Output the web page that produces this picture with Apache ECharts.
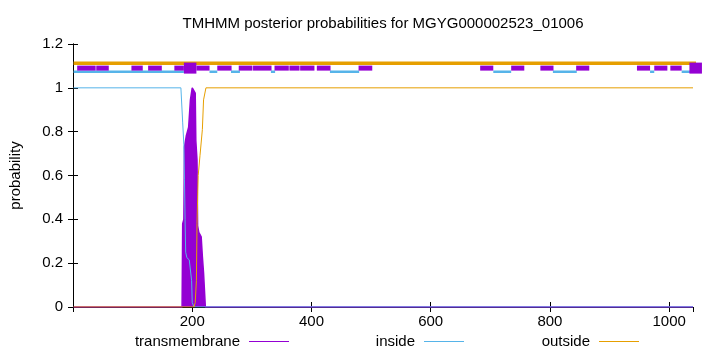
<!DOCTYPE html>
<html><head><meta charset="utf-8">
<script src="https://cdn.jsdelivr.net/npm/echarts@6/dist/echarts.min.js"></script>
<style>html,body{margin:0;padding:0;background:#fff}#c{width:720px;height:352px}</style>
</head><body><div id="c"></div>
<script>
// ---- data ----
const titleText = 'TMHMM posterior probabilities for MGYG000002523_01006';
const seqLength = 1040;
const xTicks = [200, 400, 600, 800, 1000];
const yTicks = [0, 0.2, 0.4, 0.6, 0.8, 1, 1.2];

// posterior probability curves (key points: position, probability)
const tmPos  = [1, 183, 184, 186, 187, 190, 194, 197, 200, 203, 205, 206, 208, 209, 211, 215, 217, 219, 222, 1040];
const tmVal  = [0, 0, 0.38, 0.40, 0.73, 0.78, 0.82, 0.945, 1.0, 1.0, 0.976, 0.76, 0.67, 0.37, 0.34, 0.32, 0.23, 0.155, 0, 0];
const inPos  = [1, 181, 184, 186, 187, 188, 189, 191, 195, 197, 199, 200, 203, 1040];
const inVal  = [1, 1, 0.84, 0.74, 0.58, 0.40, 0.25, 0.225, 0.215, 0.21, 0.12, 0.02, 0, 0];
const outPos = [1, 203, 205, 207, 208, 210, 213, 217, 219, 223, 1040];
const outVal = [0, 0, 0.02, 0.12, 0.38, 0.6, 0.69, 0.81, 0.945, 1.0, 1.0];

// predicted topology strip (start, end)
const tmBoxes = [[7,38],[39,60],[98,117],[126,149],[170,186],[186,207],[207,229],[242,266],
  [278,301],[302,333],[338,362],[363,380],[381,405],[409,432],[479,502],[683,705],[735,757],
  [784,806],[844,866],[946,968],[975,997],[1002,1021],[1034,1055]];
const insideSegs = [[1,186],[229,242],[265,280],[332,339],[431,480],[705,735],[805,845],[968,975],[1021,1035]];
const outsideSegs = [[1,1085]];
const stripLevels = {outside: 1.112, tm: 1.09, inside: 1.073};

// ---- chart ----
const C_TM = '#9400D3', C_IN = '#56B4E9', C_OUT = '#E69F00';
const FONT = 'Liberation Sans';
const FS = 15;
const tallBoxes = new Set([5, 22]);

function pairs(p, v) { return p.map((x, i) => [x, v[i]]); }
function segData(segs, level) {
  const d = [];
  segs.forEach((s, i) => { if (i) d.push([null, null]); d.push([s[0], level], [s[1], level]); });
  return d;
}

const chart = echarts.init(document.getElementById('c'), null, {renderer: 'canvas'});
const axisCommon = {
  type: 'value',
  axisLine: {show: true, lineStyle: {color: '#000', width: 1}},
  axisTick: {show: true, inside: true, length: 5, lineStyle: {color: '#000'}},
  splitLine: {show: false}
};
function legendFor(name, color, lineEnd) {
  return {data: [name], right: 720 - lineEnd, top: 334, align: 'right', icon: 'rect',
    itemWidth: 40, itemHeight: 1, padding: 0,
    itemStyle: {color: color, borderColor: color, borderWidth: 0},
    lineStyle: {color: color, width: 0},
    textStyle: {fontFamily: FONT, fontSize: FS, color: '#000', padding: [0, 4, 0, 0]}};
}
chart.setOption({
  animation: false,
  backgroundColor: '#fff',
  title: {text: titleText, left: 378, textAlign: 'center', top: 11,
    textStyle: {fontFamily: FONT, fontSize: FS, fontWeight: 'normal', color: '#000'}},
  grid: {left: 73, right: 27, top: 44, bottom: 45, outerBoundsMode: 'none'},
  xAxis: [
    Object.assign({}, axisCommon, {position: 'bottom', min: 0, max: seqLength, interval: 200,
      axisLabel: {showMinLabel: false, showMaxLabel: false, fontFamily: FONT, fontSize: FS, color: '#000', margin: 7,
        formatter: v => xTicks.includes(v) ? String(v) : ''}}),
    Object.assign({}, axisCommon, {position: 'top', min: 0, max: seqLength, interval: 200, axisLabel: {show: false}})
  ],
  yAxis: [
    Object.assign({}, axisCommon, {position: 'left', min: 0, max: 1.2, interval: 0.2,
      name: 'probability', nameLocation: 'middle', nameGap: 50, nameRotate: 90,
      nameTextStyle: {fontFamily: FONT, fontSize: FS, color: '#000'},
      axisLabel: {fontFamily: FONT, fontSize: FS, color: '#000', margin: 10,
        formatter: v => String(yTicks.find(t => Math.abs(t - v) < 1e-9) ?? v)}}),
    Object.assign({}, axisCommon, {position: 'right', min: 0, max: 1.2, interval: 0.2, axisLabel: {show: false}})
  ],
  legend: [
    legendFor('transmembrane', C_TM, 289),
    legendFor('inside', C_IN, 464),
    legendFor('outside', C_OUT, 639)
  ],
  series: [
    {name: 'transmembrane', type: 'line', data: pairs(tmPos, tmVal), symbol: 'none',
      lineStyle: {color: C_TM, width: 1.5}, itemStyle: {color: C_TM},
      areaStyle: {color: C_TM, opacity: 1}, z: 2},
    {name: 'inside', type: 'line', data: pairs(inPos, inVal), symbol: 'none',
      lineStyle: {color: C_IN, width: 1}, itemStyle: {color: C_IN}, z: 3},
    {name: 'outside', type: 'line', data: pairs(outPos, outVal), symbol: 'none',
      lineStyle: {color: C_OUT, width: 1}, itemStyle: {color: C_OUT}, z: 4},
    {name: 'strip-outside', type: 'line', data: segData(outsideSegs, stripLevels.outside), symbol: 'none',
      clip: false, connectNulls: false, lineStyle: {color: C_OUT, width: 3.5}, z: 5},
    {name: 'strip-inside', type: 'line', data: segData(insideSegs, stripLevels.inside), symbol: 'none',
      clip: false, connectNulls: false, lineStyle: {color: C_IN, width: 2.5}, z: 5},
    {name: 'strip-tm', type: 'custom', clip: false, z: 6, data: tmBoxes,
      renderItem: (params, api) => {
        const a = api.coord([api.value(0), stripLevels.tm]);
        const b = api.coord([api.value(1), stripLevels.tm]);
        const h = tallBoxes.has(params.dataIndex) ? 11 : 5;
        return {type: 'rect', shape: {x: a[0], y: a[1] - h / 2, width: b[0] - a[0], height: h},
          style: {fill: C_TM}};
      }}
  ]
});
</script></body></html>
